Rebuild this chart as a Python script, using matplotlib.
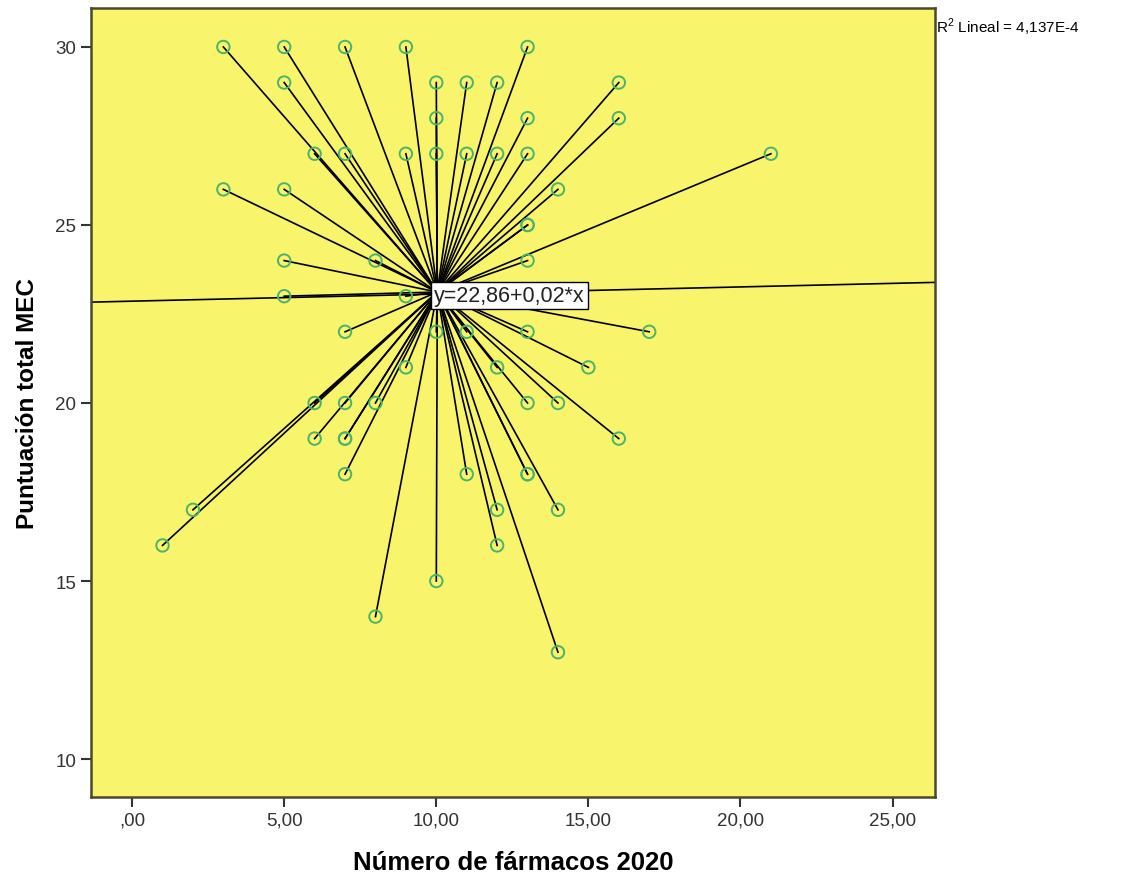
import numpy as np
import matplotlib
matplotlib.use("Agg")
import matplotlib.pyplot as plt
from matplotlib.ticker import FuncFormatter

# Número de fármacos 2020 (x) y Puntuación total MEC (y)
farmacos = [3, 5, 7, 9, 13,
            5, 10, 11, 12, 16,
            10, 13, 16,
            6, 7, 9, 10, 11, 12, 13, 21,
            3, 5, 14,
            13, 13,
            5, 8, 13,
            5, 9,
            7, 10, 11, 13, 17,
            9, 12, 15,
            6, 7, 8, 13, 14,
            6, 7, 7, 16,
            7, 11, 13, 13,
            2, 12, 14,
            1, 12,
            10,
            8,
            14]
mec = [30, 30, 30, 30, 30,
       29, 29, 29, 29, 29,
       28, 28, 28,
       27, 27, 27, 27, 27, 27, 27, 27,
       26, 26, 26,
       25, 25,
       24, 24, 24,
       23, 23,
       22, 22, 22, 22, 22,
       21, 21, 21,
       20, 20, 20, 20, 20,
       19, 19, 19, 19,
       18, 18, 18, 18,
       17, 17, 17,
       16, 16,
       15,
       14,
       13]

intercepto = 22.86
pendiente = 0.02
r2_texto = "R$^2$ Lineal = 4,137E-4"
x_ticks = [0, 5, 10, 15, 20, 25]
y_ticks = [10, 15, 20, 25, 30]

plt.rcParams['font.family'] = ['Liberation Sans', 'DejaVu Sans']
plt.rcParams['mathtext.fontset'] = 'custom'
plt.rcParams['mathtext.rm'] = 'Liberation Sans'

x = np.array(farmacos, dtype=float)
y = np.array(mec, dtype=float)
cx, cy = x.mean(), y.mean()

fig = plt.figure(figsize=(11.24, 8.79), dpi=100)
ax = fig.add_axes([0.081, 0.092, 0.751, 0.898])
ax.set_facecolor("#f8f46c")

# líneas desde cada punto al centroide
for xi, yi in zip(x, y):
    ax.plot([xi, cx], [yi, cy], color="black", lw=1.2, zorder=2)

ax.scatter(x, y, s=80, facecolors="none", edgecolors="#4db36a",
           linewidths=1.4, zorder=3)

# recta de ajuste
xlim = (-1.35, 26.4)
xs = np.array(xlim)
ax.plot(xs, intercepto + pendiente * xs, color="black", lw=1.2, zorder=2)

ax.text(cx - 0.1, cy - 0.1, "y=22,86+0,02*x", fontsize=15.5, ha="left", va="center",
        zorder=5, color="#222222",
        bbox=dict(boxstyle="square,pad=0.15", fc="white", ec="black", lw=1))

ax.set_xlim(*xlim)
ax.set_ylim(8.93, 31.1)
ax.set_xticks(x_ticks)
ax.set_yticks(y_ticks)
ax.xaxis.set_major_formatter(FuncFormatter(
    lambda v, p: ",00" if v == 0 else ("%.2f" % v).replace(".", ",")))
ax.tick_params(axis="both", direction="out", length=7, width=1.5, color="#333333",
               labelsize=13.5, labelcolor="#333333")

for sp in ax.spines.values():
    sp.set_color("#4a4a2a")
    sp.set_linewidth(1.8)

ax.set_xlabel("Número de fármacos 2020", fontsize=18.5, fontweight="bold",
              labelpad=15)
ax.set_ylabel("Puntuación total MEC", fontsize=17.5, fontweight="bold",
              labelpad=12)

fig.text(0.833, 0.969, r2_texto, fontsize=11, ha="left", va="center")

fig.savefig("out.png", dpi=100, facecolor="white")
